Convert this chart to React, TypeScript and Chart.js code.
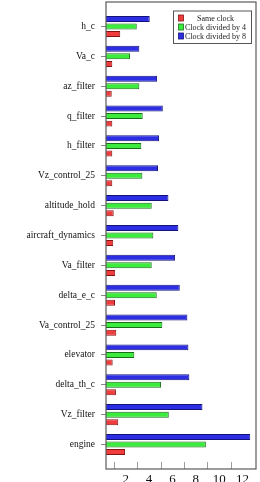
import React, { useEffect, useRef } from "react";
import { Chart, registerables } from "chart.js";

Chart.register(...registerables);

const categories = [
  "h_c",
  "Va_c",
  "az_filter",
  "q_filter",
  "h_filter",
  "Vz_control_25",
  "altitude_hold",
  "aircraft_dynamics",
  "Va_filter",
  "delta_e_c",
  "Va_control_25",
  "elevator",
  "delta_th_c",
  "Vz_filter",
  "engine",
];

const sameClock = [1.54, 0.86, 0.81, 0.86, 0.86, 0.86, 0.98, 0.94, 1.11, 1.09, 1.2, 0.89, 1.17, 1.37, 1.95];
const clockDiv4 = [2.95, 2.37, 3.17, 3.46, 3.34, 3.43, 4.23, 4.37, 4.23, 4.66, 5.14, 2.74, 5.03, 5.69, 8.86];
const clockDiv8 = [4.06, 3.17, 4.69, 5.18, 4.86, 4.77, 5.66, 6.51, 6.23, 6.63, 7.28, 7.37, 7.45, 8.57, 12.66];

const seriesLabels = ["Same clock", "Clock divided by 4", "Clock divided by 8"];
const xTickLabels = [2, 4, 6, 8, 10, 12];
const xTickMarks = [1, 3, 5, 7, 9, 11];

const FONT = "'Liberation Serif', 'DejaVu Serif', serif";

const N = categories.length;
const toPoints = (vals: number[]) => vals.map((v, i) => ({ x: v, y: N - 1 - i }));

const framePlugin = {
  id: "frame",
  afterDraw(chart: any) {
    const { ctx, chartArea } = chart;
    const xs = chart.scales.x;
    ctx.save();
    // inner tick marks on x axis
    ctx.strokeStyle = "#9a9a9a";
    ctx.lineWidth = 1;
    for (const v of xTickMarks) {
      const px = Math.round(xs.getPixelForValue(v)) + 0.5;
      ctx.beginPath();
      ctx.moveTo(px, chartArea.bottom);
      ctx.lineTo(px, chartArea.bottom - 7);
      ctx.stroke();
    }
    // frame
    ctx.strokeStyle = "#5a5a5a";
    ctx.lineWidth = 1.2;
    ctx.strokeRect(chartArea.left, chartArea.top, chartArea.right - chartArea.left, chartArea.bottom - chartArea.top);
    // legend
    const bw = 78;
    const bh = 32.5;
    const bx = chartArea.right - 4.5 - bw;
    const by = chartArea.top + 9;
    ctx.fillStyle = "#ffffff";
    ctx.fillRect(bx, by, bw, bh);
    ctx.strokeStyle = "#555555";
    ctx.lineWidth = 1;
    ctx.strokeRect(bx, by, bw, bh);
    const ds = chart.data.datasets;
    const order = [2, 1, 0];
    ctx.font = "8px " + FONT;
    ctx.textAlign = "center";
    ctx.textBaseline = "middle";
    order.forEach((di: number, row: number) => {
      const d = ds[di];
      const cy = by + 7 + row * 9;
      ctx.fillStyle = d.backgroundColor;
      ctx.fillRect(bx + 5, cy - 3, 5, 6);
      ctx.strokeStyle = d.borderColor;
      ctx.lineWidth = 0.8;
      ctx.strokeRect(bx + 5, cy - 3, 5, 6);
      ctx.fillStyle = "#222";
      ctx.fillText(d.label, bx + 42, cy + 0.5);
    });
    ctx.restore();
  },
};

export default function App() {
  const ref = useRef<HTMLCanvasElement | null>(null);
  useEffect(() => {
    if (!ref.current) return;
    Chart.defaults.font.family = FONT;
    const chart = new Chart(ref.current, {
      type: "bar",
      data: {
        datasets: [
          {
            label: seriesLabels[2],
            data: toPoints(clockDiv8) as any,
            backgroundColor: "rgb(45,45,228)",
            borderColor: "rgb(20,20,120)",
            borderWidth: 1,
            borderSkipped: false,
          },
          {
            label: seriesLabels[1],
            data: toPoints(clockDiv4) as any,
            backgroundColor: "rgb(60,236,60)",
            borderColor: "rgb(25,110,25)",
            borderWidth: 1,
            borderSkipped: false,
          },
          {
            label: seriesLabels[0],
            data: toPoints(sameClock) as any,
            backgroundColor: "rgb(240,60,60)",
            borderColor: "rgb(130,20,20)",
            borderWidth: 1,
            borderSkipped: false,
          },
        ],
      },
      options: {
        indexAxis: "y",
        animation: false,
        responsive: false,
        maintainAspectRatio: false,
        layout: { padding: { top: 2, right: 4, left: 0, bottom: 0 } },
        datasets: {
          bar: { categoryPercentage: 0.76, barPercentage: 0.79 },
        },
        plugins: {
          legend: { display: false },
          tooltip: { enabled: false },
        },
        scales: {
          x: {
            type: "linear",
            min: 0.32,
            max: 13.15,
            offset: false,
            border: { display: false },
            grid: { display: false, drawTicks: false, offset: false },
            afterBuildTicks: (scale: any) => {
              scale.ticks = xTickLabels.map((v) => ({ value: v }));
            },
            afterFit: (scale: any) => {
              scale.height = 19;
              scale.paddingLeft = 0;
              scale.paddingRight = 0;
            },
            ticks: {
              padding: 3,
              color: "#111",
              font: { size: 13, family: FONT },
              autoSkip: false,
              maxRotation: 0,
              callback: (v: any) => String(v),
            },
          },
          y: {
            type: "linear",
            min: -0.82,
            max: N - 1 + 0.82,
            offset: false,
            border: { display: false },
            grid: { drawOnChartArea: false, tickLength: 5, color: "#8a8a8a", offset: false },
            afterBuildTicks: (scale: any) => {
              scale.ticks = categories.map((_, i) => ({ value: i }));
            },
            afterFit: (scale: any) => {
              scale.width = 106;
              scale.paddingTop = 0;
              scale.paddingBottom = 0;
            },
            ticks: {
              padding: 6,
              color: "#111",
              font: { size: 9.5, family: FONT },
              autoSkip: false,
              callback: (v: any) => categories[N - 1 - Number(v)],
            },
          },
        },
      },
      plugins: [framePlugin],
    });
    return () => chart.destroy();
  }, []);
  return (
    <div style={{ position: "absolute", left: 0, top: 0, width: 260, height: 488 }}>
      <canvas ref={ref} width={260} height={488} />
    </div>
  );
}
